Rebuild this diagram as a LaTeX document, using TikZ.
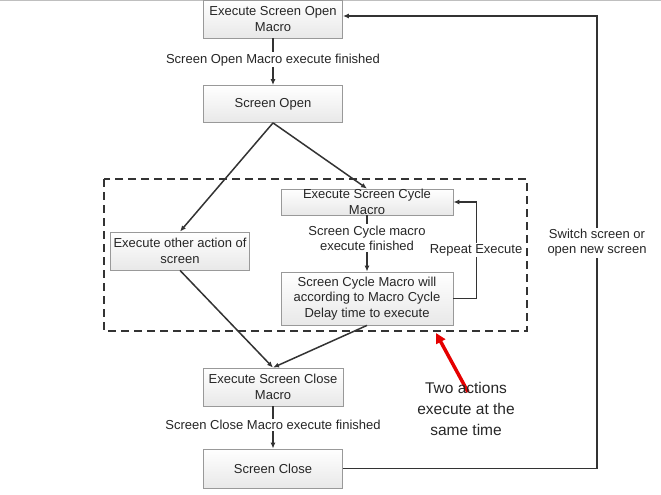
\documentclass[tikz,border=0pt]{standalone}
\usepackage{fontspec}
\setmainfont{Liberation Sans}
\usepackage{tikz}
\usetikzlibrary{arrows.meta}
\colorlet{boxcol}{gray!80}
\colorlet{linecol}{black!80}
\colorlet{txtcol}{black!85}
\tikzset{>={Latex[length=6pt,width=5pt]}}
\tikzset{
  flowbox/.style={draw=boxcol, line width=0.8pt, top color=white, bottom color=gray!18, inner sep=0pt,
    align=center, text=txtcol, font=\fontsize{13}{15.5}\selectfont},
  flowlbl/.style={fill=white, inner sep=1.5pt, align=center, text=txtcol,
    font=\fontsize{13}{15}\selectfont},
  flowline/.style={draw=linecol, line width=1.5pt}
}

\begin{document}
\begin{tikzpicture}[x=1pt, y=-1pt]
        \useasboundingbox (0,0) rectangle (661,495);
        \draw[gray!50] (0,0.5) -- (661,0.5);

        % 1. The boxes of the flow
        \node[flowbox, minimum width=139pt, minimum height=38pt] (openmac) at (273,19) {Execute Screen Open\\Macro};
        \node[flowbox, minimum width=139pt, minimum height=37pt] (open) at (273,104) {Screen Open};
        \node[flowbox, minimum width=172pt, minimum height=26pt] (cycmac) at (367,202) {Execute Screen Cycle\\Macro};
        \node[flowbox, minimum width=139pt, minimum height=38pt] (other) at (180,251) {Execute other action of\\screen};
        \node[flowbox, minimum width=172pt, minimum height=53pt] (cycwait) at (367,298.5) {Screen Cycle Macro will\\according to Macro Cycle\\Delay time to execute};
        \node[flowbox, minimum width=140pt, minimum height=38pt] (closemac) at (273,387) {Execute Screen Close\\Macro};
        \node[flowbox, minimum width=139pt, minimum height=39pt] (close) at (273,468.5) {Screen Close};

        % 2. Dashed frame round the two parallel actions
        \draw[linecol, line width=1.5pt, dash pattern=on 8pt off 5pt] (104,179) rectangle (527,331);

        % 3. Connectors
        \draw[flowline, ->] (openmac) -- (open) node[flowlbl, pos=0.46] {Screen Open Macro execute finished};
        \draw[flowline, ->] (open.south) -- (cycmac.north);
        \draw[flowline, ->] (open.south) -- (other.north);
        \draw[flowline, ->] (cycmac) -- (cycwait) node[flowlbl, pos=0.4] {Screen Cycle macro\\execute finished};
        \draw[flowline, ->] (cycwait.east) -- ++(23,0) coordinate (rep) |- (cycmac.east);
        \node[flowlbl] (replbl) at (476,250) {Repeat Execute};
        \draw[flowline, ->] (other.south) -- (closemac.north);
        \draw[flowline, ->] (cycwait.south) -- (closemac.north);
        \draw[flowline, ->] (closemac) -- (close) node[flowlbl, pos=0.44] {Screen Close Macro execute finished};

        % 4. Loop back to the first box
        \draw[flowline, ->] (close.east) -- ++(254,0) coordinate (sw) |- ([yshift=3pt]openmac.east);
        \node[flowlbl] (swlbl) at (597,243) {Switch screen or\\open new screen};

        % 5. Red note
        \coordinate (tail) at (468,392);
        \coordinate (tip) at (436,333);
        \draw[red!90!black, line width=3.5pt, -{Triangle[length=10pt,width=10pt]}] (tail) -- (tip);
        \node[align=center, text=txtcol, font=\fontsize{15.5}{21}\selectfont] (note) at (466,409) {Two actions\\execute at the\\same time};
\end{tikzpicture}
\end{document}
